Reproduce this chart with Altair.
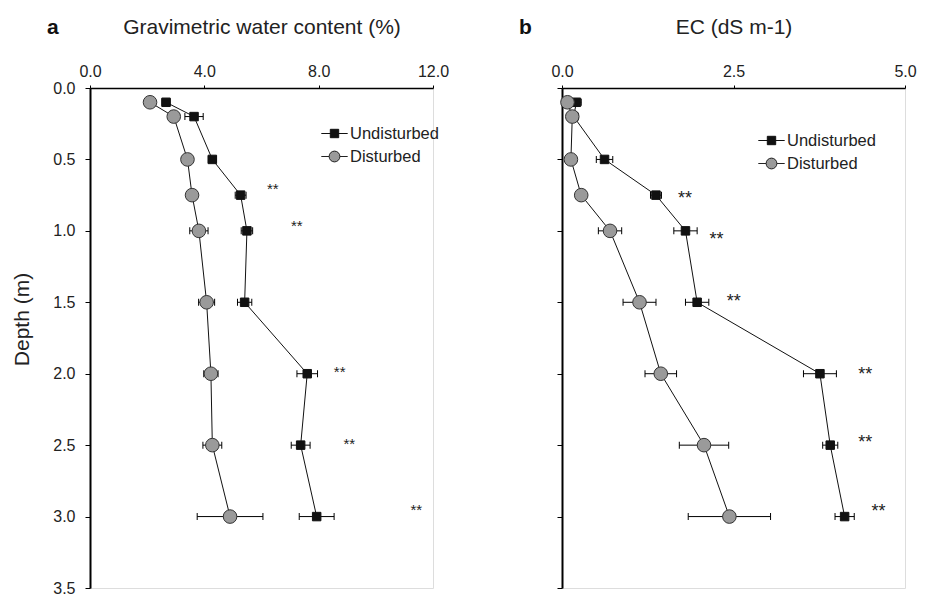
import altair as alt
import pandas as pd

FONT = "Liberation Sans"

depths = [0.1, 0.2, 0.5, 0.75, 1.0, 1.5, 2.0, 2.5, 3.0]

# Panel a: gravimetric water content (%)
wc_undist = [2.66, 3.64, 4.28, 5.27, 5.49, 5.41, 7.60, 7.37, 7.93]
wc_undist_err = [0.14, 0.32, 0.14, 0.19, 0.20, 0.25, 0.36, 0.33, 0.61]
wc_dist = [2.10, 2.93, 3.41, 3.57, 3.81, 4.08, 4.23, 4.28, 4.90]
wc_dist_err = [0.05, 0.05, 0.10, 0.10, 0.32, 0.28, 0.25, 0.33, 1.15]
wc_star_x = [6.19, 7.03, 8.53, 8.87, 11.21]
wc_star_depth = [0.68, 0.94, 1.965, 2.47, 2.93]

# Panel b: EC (dS m-1)
ec_undist = [0.21, 0.17, 0.62, 1.37, 1.80, 1.97, 3.76, 3.91, 4.12]
ec_undist_err = [0.07, 0.07, 0.12, 0.08, 0.17, 0.17, 0.24, 0.11, 0.14]
ec_dist = [0.08, 0.15, 0.13, 0.28, 0.70, 1.13, 1.44, 2.07, 2.44]
ec_dist_err = [0.03, 0.03, 0.03, 0.03, 0.17, 0.24, 0.23, 0.36, 0.60]
ec_star_x = [1.69, 2.15, 2.40, 4.32, 4.32, 4.51]
ec_star_depth = [0.74, 1.03, 1.46, 1.97, 2.45, 2.93]

series_names = ["Undisturbed", "Disturbed"]
series_fill = ["#111111", "#9a9a9a"]
series_stroke = ["#111111", "#222222"]
depth_ticks = [0.0, 0.5, 1.0, 1.5, 2.0, 2.5, 3.0, 3.5]

SQ_PATH = "M-1.1,0L1.1,0M-0.35,-0.35L0.35,-0.35L0.35,0.35L-0.35,0.35Z"
CI_PATH = ("M-1.1,0L-0.45,0M0.45,0L1.1,0"
           "M-0.45,0A0.45,0.45,0,1,1,0.45,0A0.45,0.45,0,1,1,-0.45,0Z")


def make_df(u, ue, d, de):
    rows = []
    for dep, v, e in zip(depths, u, ue):
        rows.append({"series": "Undisturbed", "depth": dep, "value": v, "lo": v - e, "hi": v + e})
    for dep, v, e in zip(depths, d, de):
        rows.append({"series": "Disturbed", "depth": dep, "value": v, "lo": v - e, "hi": v + e})
    return pd.DataFrame(rows)


def panel(df, sx, sd, xdomain, xvalues, xtitle, letter, show_y, lx, ly, star_fs):
    xscale = alt.Scale(domain=xdomain, nice=False, zero=False)
    yscale = alt.Scale(domain=[0, 3.5], reverse=True, nice=False, zero=False)
    xaxis = alt.Axis(orient="top", values=xvalues, format=".1f", title=xtitle,
                     grid=False, domainColor="black", domainWidth=1.5,
                     tickColor="black", tickSize=3, labelPadding=6,
                     labelFontSize=16, labelFont=FONT, labelColor="#222",
                     titleFontSize=21, titleFont=FONT, titleFontWeight="normal",
                     titleColor="#222", titlePadding=26, labelFlush=False)
    if show_y:
        yaxis = alt.Axis(values=depth_ticks, format=".1f", title="Depth (m)",
                         grid=False, domainColor="black", domainWidth=2,
                         tickColor="black", tickSize=5, labelPadding=10,
                         labelFontSize=16, labelFont=FONT, labelColor="#222",
                         titleFontSize=21, titleFont=FONT, titleFontWeight="normal",
                         titleColor="#222", titlePadding=20, titleY=231, labelFlush=False)
    else:
        yaxis = alt.Axis(values=depth_ticks, labels=False, title=None,
                         grid=False, domainColor="black", domainWidth=2,
                         tickColor="black", tickSize=5)

    base = alt.Chart(df)
    Y = alt.Y("depth:Q", scale=yscale, axis=yaxis)

    rules = base.mark_rule(color="black", strokeWidth=1).encode(
        x=alt.X("lo:Q", scale=xscale, axis=xaxis), x2="hi:Q", y=Y)
    cap_lo = base.mark_tick(color="black", orient="vertical", size=7, thickness=1, opacity=1).encode(
        x=alt.X("lo:Q", scale=xscale, axis=xaxis), y=Y)
    cap_hi = base.mark_tick(color="black", orient="vertical", size=7, thickness=1, opacity=1).encode(
        x=alt.X("hi:Q", scale=xscale, axis=xaxis), y=Y)
    lines = base.mark_line(color="#111", strokeWidth=1).encode(
        x=alt.X("value:Q", scale=xscale, axis=xaxis), y=Y,
        detail="series:N", order="depth:Q")
    squares = base.transform_filter("datum.series == 'Undisturbed'").mark_point(
        shape="square", size=72, fill="#111111", stroke="#111111", strokeWidth=1, opacity=1
    ).encode(x=alt.X("value:Q", scale=xscale, axis=xaxis), y=Y)
    circles = base.transform_filter("datum.series == 'Disturbed'").mark_point(
        shape="circle", size=185, fill="#9a9a9a", stroke="#333333", strokeWidth=1, opacity=1
    ).encode(x=alt.X("value:Q", scale=xscale, axis=xaxis), y=Y)

    leg = alt.Legend(title=None, orient="none", legendX=lx, legendY=ly,
                     symbolSize=576, symbolStrokeColor="#111", symbolStrokeWidth=1,
                     symbolOpacity=1,
                     labelFontSize=16.5, labelFont=FONT, labelColor="#222",
                     labelOffset=3, rowPadding=2, padding=0)
    legend_layer = base.transform_filter("false").mark_point(
        opacity=1, strokeWidth=1, size=576
    ).encode(
        shape=alt.Shape("series:N", scale=alt.Scale(domain=series_names, range=[SQ_PATH, CI_PATH]), legend=leg),
        fill=alt.Fill("series:N", scale=alt.Scale(domain=series_names, range=series_fill), legend=leg),
        stroke=alt.Stroke("series:N", scale=alt.Scale(domain=series_names, range=series_stroke), legend=leg),
    )

    sdf = pd.DataFrame({"x": sx, "depth": sd, "t": ["**"] * len(sx)})
    stars = alt.Chart(sdf).mark_text(font=FONT, fontSize=star_fs, color="#222",
                                     align="left", baseline="alphabetic",
                                     dy=round(0.575 * star_fs, 1)).encode(
        x=alt.X("x:Q", scale=xscale, axis=xaxis), y=Y, text="t:N")

    return alt.layer(rules, cap_lo, cap_hi, lines, squares, circles, legend_layer, stars).properties(
        width=343, height=500,
        title=alt.TitleParams(letter, anchor="start", frame="group", fontSize=21,
                              fontWeight="bold", font=FONT, color="#111",
                              baseline="alphabetic", dx=-43, dy=39, offset=0),
    )


left = panel(make_df(wc_undist, wc_undist_err, wc_dist, wc_dist_err), wc_star_x, wc_star_depth,
             [0, 12], [0, 4, 8, 12], "Gravimetric water content (%)", "a", True, 232, 33, 15)
right = panel(make_df(ec_undist, ec_undist_err, ec_dist, ec_dist_err), ec_star_x, ec_star_depth,
              [0, 5], [0, 2.5, 5], "EC (dS m-1)", "b", False, 197, 40, 18)

chart = alt.hconcat(left, right, spacing=129, bounds="flush").resolve_scale(
    shape="independent", fill="independent", stroke="independent", x="independent", y="independent"
).resolve_legend(shape="independent", fill="independent", stroke="independent").properties(
    padding={"left": 11, "top": 15, "right": 5, "bottom": 5}
).configure_view(stroke=None).configure(background="white")

chart.save("out.html", embed_options={"renderer": "svg", "actions": False})
